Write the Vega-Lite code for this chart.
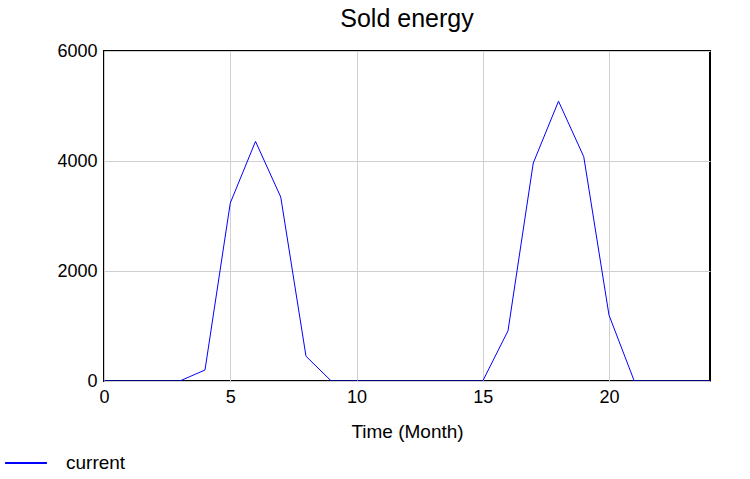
{
  "$schema": "https://vega.github.io/schema/vega-lite/v6.json",
  "width": 606,
  "height": 330,
  "autosize": {"type": "none"},
  "padding": {"left": 104, "top": 51, "right": 40, "bottom": 98},
  "background": "white",
  "title": {"text": "Sold energy", "font": "Liberation Sans", "fontSize": 25, "fontWeight": "normal", "color": "black", "offset": 10, "anchor": "middle"},
  "config": {
    "view": {"stroke": "black", "strokeWidth": 2},
    "font": "Liberation Sans"
  },
  "data": {"values": [
    {"t": 0, "v": 0, "s": "current"},
    {"t": 1, "v": 0, "s": "current"},
    {"t": 2, "v": 0, "s": "current"},
    {"t": 3, "v": 0, "s": "current"},
    {"t": 4, "v": 200, "s": "current"},
    {"t": 5, "v": 3234, "s": "current"},
    {"t": 6, "v": 4357, "s": "current"},
    {"t": 7, "v": 3344, "s": "current"},
    {"t": 8, "v": 450, "s": "current"},
    {"t": 9, "v": 0, "s": "current"},
    {"t": 10, "v": 0, "s": "current"},
    {"t": 11, "v": 0, "s": "current"},
    {"t": 12, "v": 0, "s": "current"},
    {"t": 13, "v": 0, "s": "current"},
    {"t": 14, "v": 0, "s": "current"},
    {"t": 15, "v": 0, "s": "current"},
    {"t": 16, "v": 912, "s": "current"},
    {"t": 17, "v": 3963, "s": "current"},
    {"t": 18, "v": 5087, "s": "current"},
    {"t": 19, "v": 4078, "s": "current"},
    {"t": 20, "v": 1198, "s": "current"},
    {"t": 21, "v": 0, "s": "current"},
    {"t": 22, "v": 0, "s": "current"},
    {"t": 23, "v": 0, "s": "current"},
    {"t": 24, "v": 0, "s": "current"}
  ]},
  "mark": {"type": "line", "strokeWidth": 1, "clip": true},
  "encoding": {
    "x": {"field": "t", "type": "quantitative", "scale": {"domain": [0, 24], "nice": false, "zero": false},
      "axis": {"values": [0, 5, 10, 15, 20], "title": "Time (Month)", "titleFont": "Liberation Sans", "titleFontSize": 19, "titleFontWeight": "normal", "titleColor": "black", "titlePadding": 16,
        "labelFont": "Liberation Sans", "labelFontSize": 18, "labelColor": "black", "labelPadding": 7, "labelFlush": false, "ticks": false, "domain": false,
        "grid": true, "gridColor": "#d0d0d0", "gridWidth": 1}},
    "y": {"field": "v", "type": "quantitative", "scale": {"domain": [0, 6000], "nice": false},
      "axis": {"values": [0, 2000, 4000, 6000], "format": "d", "title": null,
        "labelFont": "Liberation Sans", "labelFontSize": 18, "labelColor": "black", "labelPadding": 7, "labelFlush": false, "ticks": false, "domain": false,
        "grid": true, "gridColor": "#d0d0d0", "gridWidth": 1}},
    "color": {"field": "s", "type": "nominal", "scale": {"range": ["#0000ff"]},
      "legend": {"title": null, "orient": "none", "legendX": -100, "legendY": 390, "symbolType": "stroke", "symbolSize": 1750, "symbolStrokeWidth": 2,
        "labelFont": "Liberation Sans", "labelFontSize": 19, "labelColor": "black", "labelOffset": 18, "padding": 0}}
  }
}
